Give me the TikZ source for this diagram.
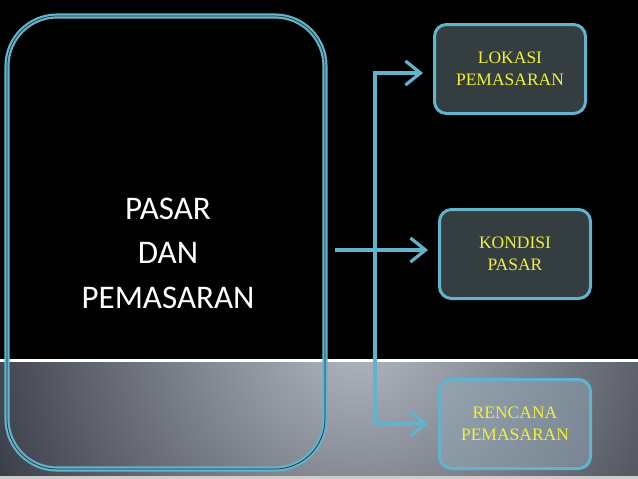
\documentclass[tikz,border=0pt]{standalone}
\usepackage{fontspec}
\usepackage{xcolor}
\usetikzlibrary{arrows.meta}
\newfontfamily\titlefont{Carlito}
\newfontfamily\boxfont{Liberation Serif}
\definecolor{edgeblue}{RGB}{98,180,205}
\definecolor{boxgrey}{RGB}{52,62,64}
\definecolor{boxtext}{RGB}{240,240,60}
\definecolor{shadelight}{RGB}{180,185,196}
\definecolor{shadedark}{RGB}{44,47,57}
\tikzstyle{every node}=[font=\boxfont\fontsize{17.5}{22}\selectfont]
\tikzstyle{panel} = [rectangle, draw=edgeblue, double=boxgrey!70!black, double distance=0.7pt, line width=2.2pt, rounded corners=50pt, minimum width=318pt, minimum height=453pt]
\tikzstyle{block} = [rectangle, draw=edgeblue, line width=3pt, fill=boxgrey, text=boxtext, align=center, rounded corners=12pt, minimum width=151pt, minimum height=89pt]
\tikzstyle{line} = [draw=edgeblue, line width=3.2pt, -{Straight Barb[length=15pt,width=24pt]}]

\begin{document}
\begin{tikzpicture}[x=1pt, y=-1pt]
    \useasboundingbox (0,0) rectangle (638,479);
    % Background
    \fill[black] (0,0) rectangle (638,479);
    \begin{scope}
        \clip (0,362) rectangle (638,476);
        \shade[inner color=shadelight, outer color=shadedark] (360,330) circle (440pt);
    \end{scope}
    \fill[white] (0,358.5) rectangle (638,361.5);
    \fill[black!20] (0,476) rectangle (638,479);
    % Place nodes
    \node [panel] (main) at (166,242.5) {};
    \node [font=\titlefont\fontsize{33}{44.5}\selectfont, text=white, align=center] (title) at (168,253) {PASAR\\DAN\\PEMASARAN};
    \node [block] (lokasi) at (510,69) {LOKASI\\PEMASARAN};
    \node [block] (kondisi) at (515,254) {KONDISI\\PASAR};
    \node [block, fill={rgb,255:red,150;green,172;blue,188}, fill opacity=0.45, text opacity=1] (rencana) at (515,424) {RENCANA\\PEMASARAN};
    \coordinate (split) at (375,250);
    % Draw edges
    \path [line, -, shorten <=9pt] (main.east |- split) -- (split);
    \path [line, shorten >=10pt] (split) |- ([yshift=-4pt]lokasi.west);
    \path [line, shorten >=10pt] (split) -- (kondisi.west |- split);
    \path [line, shorten >=10pt] (split) |- (rencana.west);
\end{tikzpicture}
\end{document}
